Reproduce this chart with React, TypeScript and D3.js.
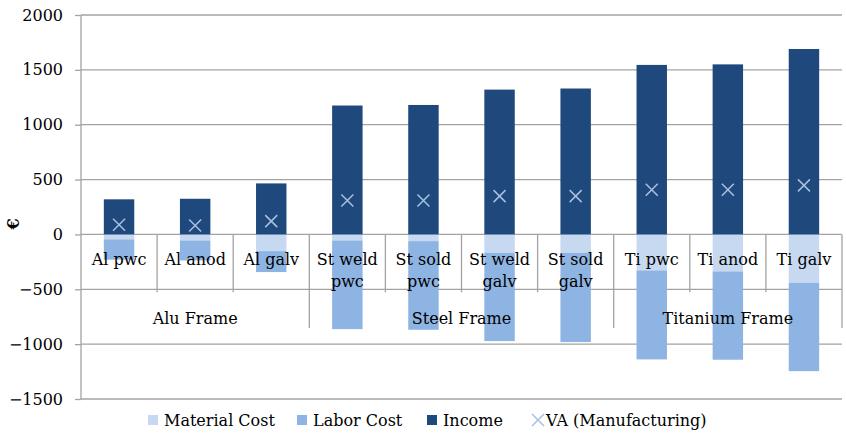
import React, { useRef, useEffect } from 'react';
import * as d3 from 'd3';

// chart data
const categories = [
  'Al pwc', 'Al anod', 'Al galv',
  'St weld pwc', 'St sold pwc', 'St weld galv', 'St sold galv',
  'Ti pwc', 'Ti anod', 'Ti galv',
];
const categoryLines = [
  ['Al pwc'], ['Al anod'], ['Al galv'],
  ['St weld', 'pwc'], ['St sold', 'pwc'], ['St weld', 'galv'], ['St sold', 'galv'],
  ['Ti pwc'], ['Ti anod'], ['Ti galv'],
];
const groupNames = ['Alu Frame', 'Steel Frame', 'Titanium Frame'];
const groupSizes = [3, 4, 3];

const materialCost = [-45, -55, -152, -55, -61, -167, -167, -328, -337, -440];
const laborCost = [-185, -182, -191, -808, -808, -805, -814, -811, -805, -806];
const income = [320, 325, 465, 1175, 1180, 1320, 1330, 1545, 1550, 1690];
const vaManufacturing = [88, 82, 121, 310, 310, 349, 349, 407, 407, 447];

const yTicks = [-1500, -1000, -500, 0, 500, 1000, 1500, 2000];

const seriesNames = ['Material Cost', 'Labor Cost', 'Income'];
const colors = { 'Material Cost': '#c6d9f1', 'Labor Cost': '#8db4e2', Income: '#1f497d' };
const vaColor = '#a9c1df';
const gridColor = '#a3a3a3';
const font = '"DejaVu Serif", serif';

const App = () => {
  const svgRef = useRef(null);

  useEffect(() => {
    const svg = d3.select(svgRef.current);
    svg.selectAll('*').remove();

    const left = 81;
    const right = 842;
    const top = 15;
    const bottom = 399;

    const rows = categories.map((c, i) => ({
      category: c,
      'Material Cost': materialCost[i],
      'Labor Cost': laborCost[i],
      Income: income[i],
    }));

    const stacked = d3.stack().keys(seriesNames).offset(d3.stackOffsetDiverging)(rows);

    const x = d3.scaleBand().domain(categories).range([left, right]).padding(0);
    const y = d3.scaleLinear().domain([-1500, 2000]).range([bottom, top]);
    const barW = x.bandwidth() / 2.5;
    const cx = (c) => x(c) + x.bandwidth() / 2;

    // gridlines + y axis
    const yAxis = d3.axisLeft(y).tickValues(yTicks).tickSize(6).tickPadding(12).tickFormat(d3.format('d'));
    const gy = svg.append('g').attr('transform', `translate(${left},0)`).call(yAxis);
    gy.select('.domain').attr('stroke', gridColor).attr('stroke-width', 1.3).attr('d', `M0,${top}V${bottom}`);
    gy.selectAll('.tick line').attr('stroke', gridColor).attr('stroke-width', 1.3);
    gy.selectAll('.tick text')
      .attr('font-family', font)
      .attr('font-size', 16)
      .attr('fill', '#000');

    svg.append('g')
      .selectAll('line')
      .data(yTicks)
      .enter()
      .append('line')
      .attr('x1', left)
      .attr('x2', right)
      .attr('y1', (d) => y(d))
      .attr('y2', (d) => y(d))
      .attr('stroke', gridColor)
      .attr('stroke-width', 1.3);

    // category separators (two-level axis)
    const y0 = y(0);
    const tickEnd = y(-500) + 3;
    const groupEnd = 328;
    const boundaries = d3.range(1, categories.length + 1).map((i) => left + i * x.step());
    const groupBounds = d3.cumsum(groupSizes).map((n) => left + n * x.step());

    svg.append('g')
      .selectAll('line')
      .data(boundaries)
      .enter()
      .append('line')
      .attr('x1', (d) => d)
      .attr('x2', (d) => d)
      .attr('y1', y0)
      .attr('y2', (d) => (groupBounds.some((g) => Math.abs(g - d) < 0.5) ? groupEnd : tickEnd))
      .attr('stroke', gridColor)
      .attr('stroke-width', 1.3);

    // bars
    svg.append('g')
      .selectAll('g')
      .data(stacked)
      .enter()
      .append('g')
      .attr('fill', (s) => colors[s.key])
      .selectAll('rect')
      .data((s) => s)
      .enter()
      .append('rect')
      .attr('x', (d) => cx(d.data.category) - barW / 2)
      .attr('y', (d) => y(Math.max(d[0], d[1])))
      .attr('width', barW)
      .attr('height', (d) => Math.abs(y(d[0]) - y(d[1])));

    // VA markers
    const xs = 6;
    svg.append('g')
      .selectAll('path')
      .data(categories)
      .enter()
      .append('path')
      .attr('d', (c, i) => {
        const px = cx(c);
        const py = y(vaManufacturing[i]);
        return `M${px - xs},${py - xs}L${px + xs},${py + xs}M${px - xs},${py + xs}L${px + xs},${py - xs}`;
      })
      .attr('stroke', vaColor)
      .attr('stroke-width', 1.5)
      .attr('fill', 'none');

    // category labels
    const labels = svg.append('g')
      .attr('font-family', font)
      .attr('font-size', 16)
      .attr('text-anchor', 'middle')
      .attr('fill', '#000');

    categoryLines.forEach((lines, i) => {
      lines.forEach((ln, j) => {
        labels.append('text')
          .attr('x', cx(categories[i]))
          .attr('y', 264.5 + j * 22.5)
          .text(ln);
      });
    });

    const groupStarts = [0, ...d3.cumsum(groupSizes)];
    groupNames.forEach((g, i) => {
      const a = left + groupStarts[i] * x.step();
      const b = left + groupStarts[i + 1] * x.step();
      labels.append('text')
        .attr('x', (a + b) / 2)
        .attr('y', 323.5)
        .text(g);
    });

    // y axis title
    svg.append('text')
      .attr('transform', 'translate(19,224) rotate(-90)')
      .attr('text-anchor', 'middle')
      .attr('font-family', font)
      .attr('font-size', 16)
      .attr('font-weight', 'bold')
      .text('€');

    // legend
    const legend = svg.append('g').attr('font-family', font).attr('font-size', 16);
    const legendX = [148, 297, 427];
    seriesNames.forEach((s, i) => {
      legend.append('rect')
        .attr('x', legendX[i])
        .attr('y', 415)
        .attr('width', 10)
        .attr('height', 10)
        .attr('fill', colors[s]);
      legend.append('text')
        .attr('x', legendX[i] + 16)
        .attr('y', 425.5)
        .text(s);
    });
    legend.append('path')
      .attr('d', 'M532,414L544,426M532,426L544,414')
      .attr('stroke', vaColor)
      .attr('stroke-width', 1.5);
    legend.append('text')
      .attr('x', 546)
      .attr('y', 425.5)
      .text('VA (Manufacturing)');
  }, []);

  return (
    <svg
      ref={svgRef}
      width={846}
      height={433}
      style={{ position: 'absolute', left: 0, top: 0, background: '#fff' }}
    />
  );
};

export default App;
